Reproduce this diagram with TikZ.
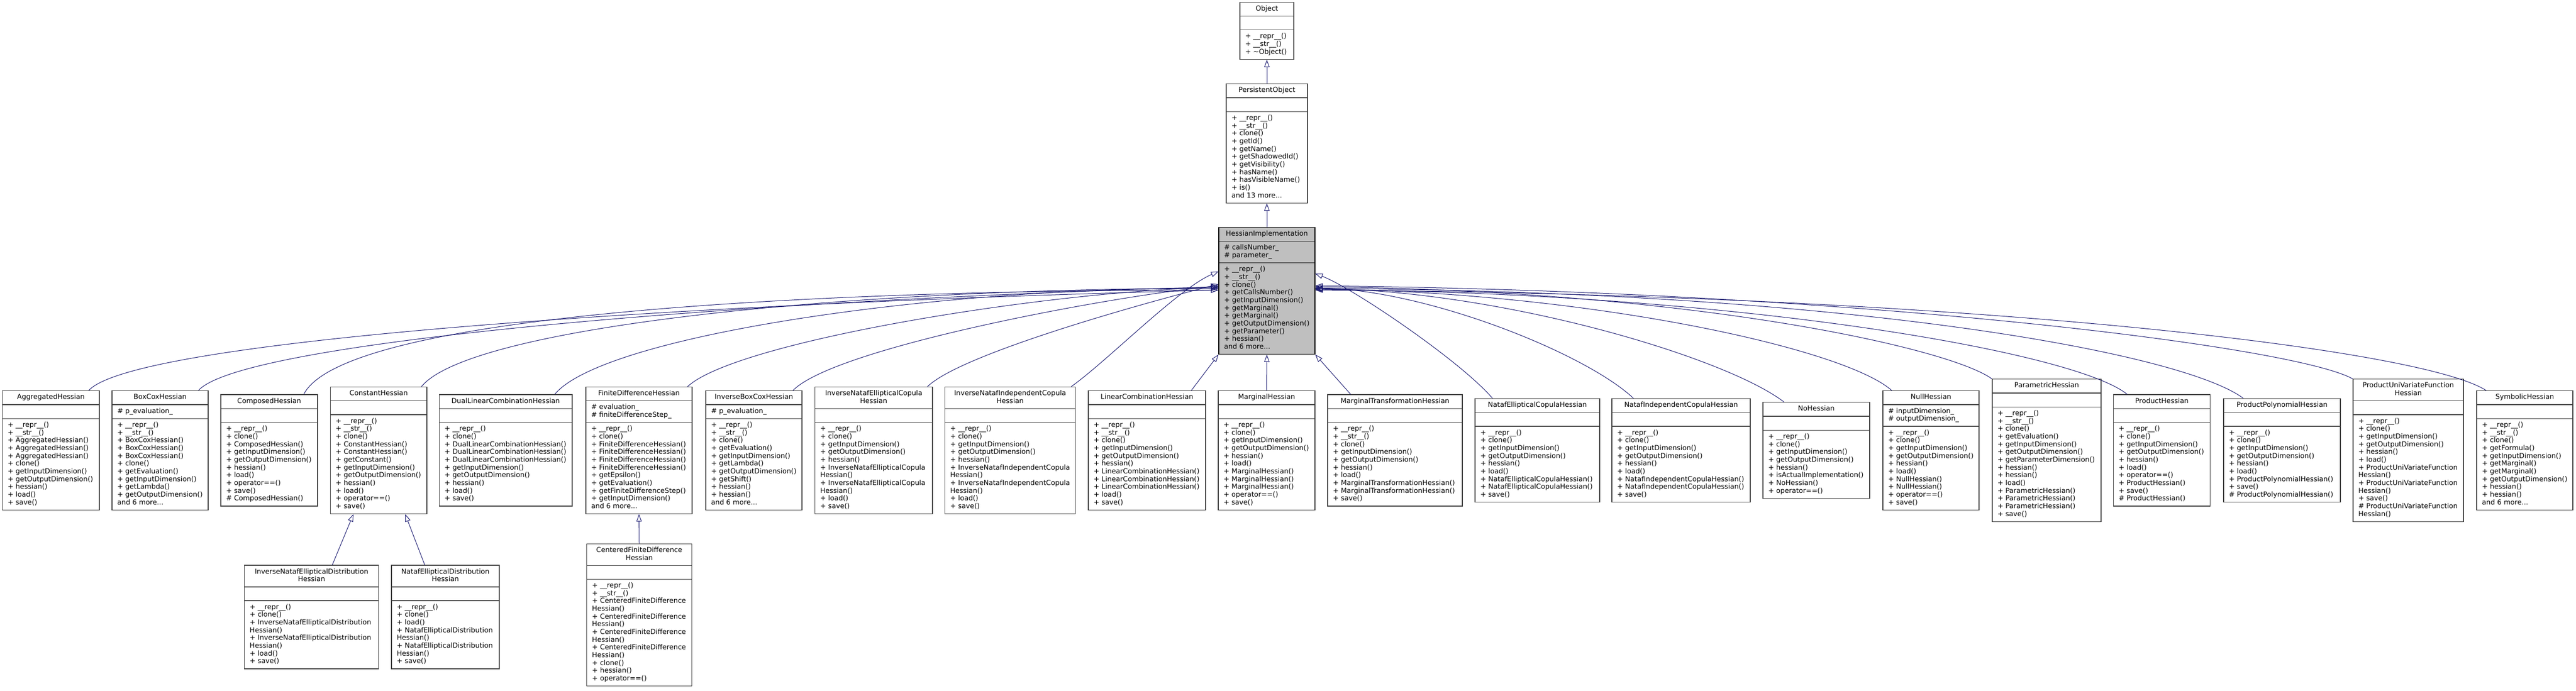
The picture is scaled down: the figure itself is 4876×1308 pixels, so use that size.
\documentclass[tikz,border=0pt]{standalone}
\usepackage{fontspec}
\usepackage{tikz}
\usetikzlibrary{shapes.multipart,arrows.meta}
\newfontfamily\umlfont{DejaVu Sans}
\definecolor{edgeblue}{RGB}{25,25,112}
\definecolor{focusgray}{RGB}{191,191,191}
\definecolor{boxline}{RGB}{64,64,64}
\newcommand{\dn}[1]{\_\_#1\_\_}
\newcommand{\hdr}[2]{\begin{tabular}{@{}c@{}}#1\\#2\end{tabular}}
\tikzset{every picture/.style={line width=0.75pt}}
\tikzset{
  cls/.style={rectangle split, rectangle split parts=3, rectangle split part align={center,left,left},
    draw=boxline, line width=1pt, fill=white, align=left, inner xsep=7.5pt, inner ysep=3.85pt,
    font={\umlfont\fontsize{9.8pt}{11pt}\selectfont}},
  clsw/.style={minimum width=#1*0.75pt},
  inh/.style={draw=edgeblue, line width=0.75pt, -{Triangle[open,length=10.5pt,width=7.5pt]}},
}

\begin{document}
\begin{tikzpicture}[x=0.75pt,y=0.75pt,yscale=-1,xscale=1]
%set diagram left start at 0, and has height of 1308
\useasboundingbox (0,0) rectangle (4876,1308);

%Shape: Class Object
\node[cls, clsw=102] (object) at (2398,58.3) {\strut Object\nodepart{two}\strut\nodepart{three}\strut+ \dn{repr}()\\+ \dn{str}()\\+ \textasciitilde Object()\strut};
%Shape: Class PersistentObject
\node[cls, clsw=154] (persistent) at (2398,271.5) {\strut PersistentObject\nodepart{two}\strut\nodepart{three}\strut+ \dn{repr}()\\+ \dn{str}()\\+ clone()\\+ getId()\\+ getName()\\+ getShadowedId()\\+ getVisibility()\\+ hasName()\\+ hasVisibleName()\\+ is()\\and 13 more...\strut};
%Shape: Class HessianImplementation
\node[cls, clsw=182, draw=black, fill=focusgray] (hess) at (2398,550.5) {\strut HessianImplementation\nodepart{two}\strut\# callsNumber\_\\\# parameter\_\strut\nodepart{three}\strut+ \dn{repr}()\\+ \dn{str}()\\+ clone()\\+ getCallsNumber()\\+ getInputDimension()\\+ getMarginal()\\+ getMarginal()\\+ getOutputDimension()\\+ getParameter()\\+ hessian()\\and 6 more...\strut};

%Shape: Class AggregatedHessian
\node[cls, clsw=183.4] (aggr) at (96.3,852.5) {\strut AggregatedHessian\nodepart{two}\strut\nodepart{three}\strut+ \dn{repr}()\\+ \dn{str}()\\+ AggregatedHessian()\\+ AggregatedHessian()\\+ AggregatedHessian()\\+ clone()\\+ getInputDimension()\\+ getOutputDimension()\\+ hessian()\\+ load()\\+ save()\strut};
%Shape: Class BoxCoxHessian
\node[cls, clsw=182] (boxcox) at (303,852.5) {\strut BoxCoxHessian\nodepart{two}\strut\# p\_evaluation\_\strut\nodepart{three}\strut+ \dn{repr}()\\+ \dn{str}()\\+ BoxCoxHessian()\\+ BoxCoxHessian()\\+ BoxCoxHessian()\\+ clone()\\+ getEvaluation()\\+ getInputDimension()\\+ getLambda()\\+ getOutputDimension()\\and 6 more...\strut};
%Shape: Class ComposedHessian
\node[cls, clsw=183] (composed) at (509.5,852.5) {\strut ComposedHessian\nodepart{two}\strut\nodepart{three}\strut+ \dn{repr}()\\+ clone()\\+ ComposedHessian()\\+ getInputDimension()\\+ getOutputDimension()\\+ hessian()\\+ load()\\+ operator==()\\+ save()\\\# ComposedHessian()\strut};
%Shape: Class ConstantHessian
\node[cls, clsw=182.5] (constant) at (716.7,852.5) {\strut ConstantHessian\nodepart{two}\strut\nodepart{three}\strut+ \dn{repr}()\\+ \dn{str}()\\+ clone()\\+ ConstantHessian()\\+ ConstantHessian()\\+ getConstant()\\+ getInputDimension()\\+ getOutputDimension()\\+ hessian()\\+ load()\\+ operator==()\\+ save()\strut};
%Shape: Class DualLinearCombinationHessian
\node[cls, clsw=251.5] (duallin) at (957.2,852.5) {\strut DualLinearCombinationHessian\nodepart{two}\strut\nodepart{three}\strut+ \dn{repr}()\\+ clone()\\+ DualLinearCombinationHessian()\\+ DualLinearCombinationHessian()\\+ DualLinearCombinationHessian()\\+ getInputDimension()\\+ getOutputDimension()\\+ hessian()\\+ load()\\+ save()\strut};
%Shape: Class FiniteDifferenceHessian
\node[cls, clsw=201] (finitediff) at (1209.5,852.5) {\strut FiniteDifferenceHessian\nodepart{two}\strut\# evaluation\_\\\# finiteDifferenceStep\_\strut\nodepart{three}\strut+ \dn{repr}()\\+ clone()\\+ FiniteDifferenceHessian()\\+ FiniteDifferenceHessian()\\+ FiniteDifferenceHessian()\\+ FiniteDifferenceHessian()\\+ getEpsilon()\\+ getEvaluation()\\+ getFiniteDifferenceStep()\\+ getInputDimension()\\and 6 more...\strut};
%Shape: Class InverseBoxCoxHessian
\node[cls, clsw=182] (invboxcox) at (1427,852.5) {\strut InverseBoxCoxHessian\nodepart{two}\strut\# p\_evaluation\_\strut\nodepart{three}\strut+ \dn{repr}()\\+ \dn{str}()\\+ clone()\\+ getEvaluation()\\+ getInputDimension()\\+ getLambda()\\+ getOutputDimension()\\+ getShift()\\+ hessian()\\+ hessian()\\and 6 more...\strut};
%Shape: Class InverseNatafEllipticalCopulaHessian
\node[cls, clsw=222.4] (invnatafell) at (1653.8,852.5) {\hdr{InverseNatafEllipticalCopula}{Hessian}\nodepart{two}\strut\nodepart{three}\strut+ \dn{repr}()\\+ clone()\\+ getInputDimension()\\+ getOutputDimension()\\+ hessian()\\+ InverseNatafEllipticalCopula\\Hessian()\\+ InverseNatafEllipticalCopula\\Hessian()\\+ load()\\+ save()\strut};
%Shape: Class InverseNatafIndependentCopulaHessian
\node[cls, clsw=246] (invnatafind) at (1912,852.5) {\hdr{InverseNatafIndependentCopula}{Hessian}\nodepart{two}\strut\nodepart{three}\strut+ \dn{repr}()\\+ clone()\\+ getInputDimension()\\+ getOutputDimension()\\+ hessian()\\+ InverseNatafIndependentCopula\\Hessian()\\+ InverseNatafIndependentCopula\\Hessian()\\+ load()\\+ save()\strut};
%Shape: Class LinearCombinationHessian
\node[cls, clsw=222] (lincomb) at (2171,852.5) {\strut LinearCombinationHessian\nodepart{two}\strut\nodepart{three}\strut+ \dn{repr}()\\+ \dn{str}()\\+ clone()\\+ getInputDimension()\\+ getOutputDimension()\\+ hessian()\\+ LinearCombinationHessian()\\+ LinearCombinationHessian()\\+ LinearCombinationHessian()\\+ load()\\+ save()\strut};
%Shape: Class MarginalHessian
\node[cls, clsw=183] (marginal) at (2397.5,852.5) {\strut MarginalHessian\nodepart{two}\strut\nodepart{three}\strut+ \dn{repr}()\\+ clone()\\+ getInputDimension()\\+ getOutputDimension()\\+ hessian()\\+ load()\\+ MarginalHessian()\\+ MarginalHessian()\\+ MarginalHessian()\\+ operator==()\\+ save()\strut};
%Shape: Class MarginalTransformationHessian
\node[cls, clsw=255] (margtrans) at (2640.5,852.5) {\strut MarginalTransformationHessian\nodepart{two}\strut\nodepart{three}\strut+ \dn{repr}()\\+ \dn{str}()\\+ clone()\\+ getInputDimension()\\+ getOutputDimension()\\+ hessian()\\+ load()\\+ MarginalTransformationHessian()\\+ MarginalTransformationHessian()\\+ save()\strut};
%Shape: Class NatafEllipticalCopulaHessian
\node[cls, clsw=236] (natafell) at (2910,852.5) {\strut NatafEllipticalCopulaHessian\nodepart{two}\strut\nodepart{three}\strut+ \dn{repr}()\\+ clone()\\+ getInputDimension()\\+ getOutputDimension()\\+ hessian()\\+ load()\\+ NatafEllipticalCopulaHessian()\\+ NatafEllipticalCopulaHessian()\\+ save()\strut};
%Shape: Class NatafIndependentCopulaHessian
\node[cls, clsw=262] (natafind) at (3182,852.5) {\strut NatafIndependentCopulaHessian\nodepart{two}\strut\nodepart{three}\strut+ \dn{repr}()\\+ clone()\\+ getInputDimension()\\+ getOutputDimension()\\+ hessian()\\+ load()\\+ NatafIndependentCopulaHessian()\\+ NatafIndependentCopulaHessian()\\+ save()\strut};
%Shape: Class NoHessian
\node[cls, clsw=202] (nohessian) at (3438,852.5) {\strut NoHessian\nodepart{two}\strut\nodepart{three}\strut+ \dn{repr}()\\+ clone()\\+ getInputDimension()\\+ getOutputDimension()\\+ hessian()\\+ isActualImplementation()\\+ NoHessian()\\+ operator==()\strut};
%Shape: Class NullHessian
\node[cls, clsw=182] (nullh) at (3655,852.5) {\strut NullHessian\nodepart{two}\strut\# inputDimension\_\\\# outputDimension\_\strut\nodepart{three}\strut+ \dn{repr}()\\+ clone()\\+ getInputDimension()\\+ getOutputDimension()\\+ hessian()\\+ load()\\+ NullHessian()\\+ NullHessian()\\+ operator==()\\+ save()\strut};
%Shape: Class ParametricHessian
\node[cls, clsw=206] (parametric) at (3874,852.5) {\strut ParametricHessian\nodepart{two}\strut\nodepart{three}\strut+ \dn{repr}()\\+ \dn{str}()\\+ clone()\\+ getEvaluation()\\+ getInputDimension()\\+ getOutputDimension()\\+ getParameterDimension()\\+ hessian()\\+ hessian()\\+ load()\\+ ParametricHessian()\\+ ParametricHessian()\\+ ParametricHessian()\\+ save()\strut};
%Shape: Class ProductHessian
\node[cls, clsw=183.5] (product) at (4092,852.5) {\strut ProductHessian\nodepart{two}\strut\nodepart{three}\strut+ \dn{repr}()\\+ clone()\\+ getInputDimension()\\+ getOutputDimension()\\+ hessian()\\+ load()\\+ operator==()\\+ ProductHessian()\\+ save()\\\# ProductHessian()\strut};
%Shape: Class ProductPolynomialHessian
\node[cls, clsw=221] (prodpoly) at (4319.5,852.5) {\strut ProductPolynomialHessian\nodepart{two}\strut\nodepart{three}\strut+ \dn{repr}()\\+ clone()\\+ getInputDimension()\\+ getOutputDimension()\\+ hessian()\\+ load()\\+ ProductPolynomialHessian()\\+ save()\\\# ProductPolynomialHessian()\strut};
%Shape: Class ProductUniVariateFunctionHessian
\node[cls, clsw=209] (produni) at (4558.5,852.5) {\hdr{ProductUniVariateFunction}{Hessian}\nodepart{two}\strut\nodepart{three}\strut+ \dn{repr}()\\+ clone()\\+ getInputDimension()\\+ getOutputDimension()\\+ hessian()\\+ load()\\+ ProductUniVariateFunction\\Hessian()\\+ ProductUniVariateFunction\\Hessian()\\+ save()\\\# ProductUniVariateFunction\\Hessian()\strut};
%Shape: Class SymbolicHessian
\node[cls, clsw=182] (symbolic) at (4779,852.5) {\strut SymbolicHessian\nodepart{two}\strut\nodepart{three}\strut+ \dn{repr}()\\+ \dn{str}()\\+ clone()\\+ getFormula()\\+ getInputDimension()\\+ getMarginal()\\+ getMarginal()\\+ getOutputDimension()\\+ hessian()\\+ hessian()\\and 6 more...\strut};

%Shape: Class InverseNatafEllipticalDistributionHessian
\node[cls, clsw=254] (invnatafdist) at (589.7,1168) {\hdr{InverseNatafEllipticalDistribution}{Hessian}\nodepart{two}\strut\nodepart{three}\strut+ \dn{repr}()\\+ clone()\\+ InverseNatafEllipticalDistribution\\Hessian()\\+ InverseNatafEllipticalDistribution\\Hessian()\\+ load()\\+ save()\strut};
%Shape: Class NatafEllipticalDistributionHessian
\node[cls, clsw=204] (natafdist) at (843,1168) {\hdr{NatafEllipticalDistribution}{Hessian}\nodepart{two}\strut\nodepart{three}\strut+ \dn{repr}()\\+ clone()\\+ load()\\+ NatafEllipticalDistribution\\Hessian()\\+ NatafEllipticalDistribution\\Hessian()\\+ save()\strut};
%Shape: Class CenteredFiniteDifferenceHessian
\node[cls, clsw=198.6] (centered) at (1210,1164) {\hdr{CenteredFiniteDifference}{Hessian}\nodepart{two}\strut\nodepart{three}\strut+ \dn{repr}()\\+ \dn{str}()\\+ CenteredFiniteDifference\\Hessian()\\+ CenteredFiniteDifference\\Hessian()\\+ CenteredFiniteDifference\\Hessian()\\+ CenteredFiniteDifference\\Hessian()\\+ clone()\\+ hessian()\\+ operator==()\strut};

%Straight Lines: top of the hierarchy
\draw[inh] (persistent.north) -- (object.south);
\draw[inh] (hess.north) -- (persistent.south);

%Curve Lines: left side of HessianImplementation
\draw[inh] ([xshift=53.8pt]aggr.north) .. controls +(82,-91) and +(-1107,28) .. ([yshift=-1.1pt]hess.west);
\draw[inh] ([xshift=54.5pt]boxcox.north) .. controls +(80,-90) and +(-957,27) .. ([yshift=-5.6pt]hess.west);
\draw[inh] ([xshift=49.1pt]composed.north) .. controls +(75,-148) and +(-807,0) .. ([yshift=-1.1pt]hess.west);
\draw[inh] ([xshift=60.8pt]constant.north) .. controls +(92,-113) and +(-707,0) .. ([yshift=-3.4pt]hess.west);
\draw[inh] ([xshift=69.6pt]duallin.north) .. controls +(90,-109) and +(-557,0) .. ([yshift=-4.1pt]hess.west);
\draw[inh] ([xshift=69pt]finitediff.north) .. controls +(89,-83) and +(-357,12) .. ([yshift=-5.6pt]hess.west);
\draw[inh] ([xshift=55.5pt]invboxcox.north) .. controls +(79,-81) and +(-207,20) .. ([yshift=-7.1pt]hess.west);
\draw[inh] ([xshift=76.4pt]invnatafell.north) .. controls +(64,-63) and +(-127,32) .. ([yshift=-9.4pt]hess.west);
\draw[inh] ([xshift=86.8pt]invnatafind.north) .. controls +(70,-50) and +(-77,33) .. ([yshift=-27.4pt]hess.west);
%Straight Lines: below HessianImplementation
\draw[inh] ([xshift=63pt]lincomb.north) -- (hess.south west);
\draw[inh] (marginal.north) -- (hess.south);
\draw[inh] ([xshift=-62.9pt]margtrans.north) -- (hess.south east);

%Curve Lines: right side of HessianImplementation
\draw[inh] ([xshift=-63.8pt]natafell.north) .. controls +(-60,-70) and +(71,27) .. ([yshift=-24.4pt]hess.east);
\draw[inh] ([xshift=-67.7pt]natafind.north) .. controls +(-92,-86) and +(211,4) .. ([yshift=-4.1pt]hess.east);
\draw[inh] ([xshift=-45.8pt]nohessian.north) .. controls +(-107,-83) and +(361,5) .. ([yshift=-3.4pt]hess.east);
\draw[inh] ([xshift=-55.7pt]nullh.north) .. controls +(-91,-81) and +(511,6) .. ([yshift=-2.6pt]hess.east);
\draw[inh] (parametric.north west) .. controls +(-81,-59) and +(711,7) .. ([yshift=-5.6pt]hess.east);
\draw[inh] ([xshift=-49.2pt]product.north) .. controls +(-96,-79) and +(811,7) .. ([yshift=-1.9pt]hess.east);
\draw[inh] ([xshift=-55.1pt]prodpoly.north) .. controls +(-116,-86) and +(1011,5) .. ([yshift=-3.4pt]hess.east);
\draw[inh] (produni.north west) .. controls +(-114,-63) and +(1011,10) .. ([yshift=-7.1pt]hess.east);
\draw[inh] ([xshift=-54.8pt]symbolic.north) .. controls +(-126,-81) and +(1211,8) .. ([yshift=-1.1pt]hess.east);

%Straight Lines: second level subclasses
\draw[inh] ([xshift=29.5pt]invnatafdist.north) -- ([xshift=-35.8pt]constant.south);
\draw[inh] ([xshift=-29.3pt]natafdist.north) -- ([xshift=37.7pt]constant.south);
\draw[inh] (centered.north) -- (finitediff.south);

\end{tikzpicture}
\end{document}
